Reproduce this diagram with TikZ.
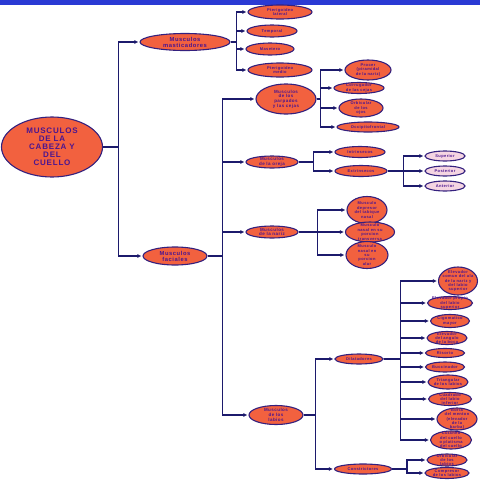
\documentclass[tikz,border=0pt]{standalone}
\usepackage{fontspec}
\setmainfont{Liberation Sans}[LetterSpace=10]
\usetikzlibrary{arrows.meta,shapes.geometric}
\definecolor{mfill}{HTML}{F2613F}
\definecolor{mline}{HTML}{34207E}
\definecolor{mtext}{HTML}{4A1590}
\definecolor{mwire}{HTML}{1C1A6C}
\definecolor{mpink}{HTML}{F5D5E2}
\definecolor{mbar}{HTML}{2A3AD4}

\begin{document}
\begin{tikzpicture}[x=1pt, y=-1pt,
        leaf/.style={ellipse, draw=mline, line width=1.1pt, fill=mfill, inner xsep=-3pt, inner ysep=-3pt,
                     align=center, text=mtext, font=\bfseries\fontsize{4}{4.4}\selectfont},
        rootbox/.style={leaf, font=\bfseries\fontsize{8}{8}\selectfont},
        midbox/.style={leaf, font=\bfseries\fontsize{5.8}{6}\selectfont},
        grpbox/.style={leaf, font=\bfseries\fontsize{4.5}{4.7}\selectfont},
        earleaf/.style={leaf, fill=mpink},
        arr/.style={-{Latex[length=4pt,width=4pt]}, line width=1.4pt, mwire, shorten >=1pt}]
        \useasboundingbox (0,0) rectangle (480,480);
        \fill[mbar] (0,0) rectangle (480,5);
        % raiz
        \node[rootbox, minimum width=101, minimum height=60] (root) at (52,147) {MUSCULOS\\DE LA\\CABEZA Y\\DEL\\CUELLO};
        \node[midbox, minimum width=90, minimum height=17] (mast) at (185,42) {Musculos\\masticadores};
        \node[midbox, minimum width=64, minimum height=18] (fac) at (175,256) {Musculos\\faciales};
        % masticadores
        \node[leaf, minimum width=64, minimum height=14] (ptl) at (280,12) {Pterigoideo\\lateral};
        \node[leaf, minimum width=50, minimum height=12] (tem) at (272,31) {Temporal};
        \node[leaf, minimum width=48, minimum height=12] (mas) at (270,49) {Masetero};
        \node[leaf, minimum width=64, minimum height=14] (ptm) at (280,70) {Pterigoideo\\medio};
        % faciales
        \node[grpbox, minimum width=60, minimum height=30] (parp) at (286,99) {Musculos\\de los\\parpados\\y las cejas};
        \node[grpbox, minimum width=52, minimum height=12] (oreja) at (272,162) {Musculos\\de la oreja};
        \node[grpbox, minimum width=52, minimum height=12] (nariz) at (272,232) {Musculos\\de la nariz};
        \node[grpbox, minimum width=54, minimum height=19] (labios) at (276,415) {Musculos\\de los\\labios};
        % parpados y cejas
        \node[leaf, minimum width=46, minimum height=20] (proc) at (368,70) {Procer\\(piramidal\\de la nariz)};
        \node[leaf, minimum width=50, minimum height=11] (corr) at (359,88) {Corrugador\\de las cejas};
        \node[leaf, minimum width=44, minimum height=18] (orbo) at (361,108) {Orbicular\\de los\\ojos};
        \node[leaf, minimum width=62, minimum height=10] (occ) at (368,127) {Occipitofrontal};
        % oreja
        \node[leaf, minimum width=50, minimum height=11] (intr) at (360,152) {Intrinsecos};
        \node[leaf, minimum width=52, minimum height=11] (extr) at (361,171) {Extrinsecos};
        \node[earleaf, minimum width=40, minimum height=10] (sup) at (445,156) {Superior};
        \node[earleaf, minimum width=40, minimum height=10] (post) at (445,171) {Posterior};
        \node[earleaf, minimum width=40, minimum height=10] (ant) at (445,186) {Anterior};
        % nariz
        \node[leaf, minimum width=40, minimum height=27] (dep) at (367,210) {Musculo\\depresor\\del tabique\\nasal};
        \node[leaf, minimum width=49, minimum height=20] (trans) at (370,232) {Musculo\\nasal en su\\porcion\\transversa};
        \node[leaf, minimum width=42, minimum height=27] (alar) at (367,255) {Musculo\\nasal en\\su\\porcion\\alar};
        % labios
        \node[leaf, minimum width=48, minimum height=10] (dil) at (359,359) {Dilatadores};
        \node[leaf, minimum width=57, minimum height=10] (cons) at (363,469) {Constrictores};
        \node[leaf, minimum width=39, minimum height=28] (d1) at (458,281) {Elevador\\comun del ala\\de la nariz y\\del labio\\superior};
        \node[leaf, minimum width=45, minimum height=13] (d2) at (450,303) {Elevador propio\\del labio\\superior};
        \node[leaf, minimum width=39, minimum height=13] (d3) at (450,321) {Cigomatico\\mayor};
        \node[leaf, minimum width=40, minimum height=13] (d4) at (447,338) {Elevador\\del angulo\\de la boca};
        \node[leaf, minimum width=39, minimum height=9] (d5) at (445,353) {Risorio};
        \node[leaf, minimum width=39, minimum height=10] (d6) at (445,367) {Buccinador};
        \node[leaf, minimum width=40, minimum height=14] (d7) at (448,382) {Triangular\\de los labios};
        \node[leaf, minimum width=43, minimum height=13] (d8) at (450,399) {Cuadrado\\del labio\\inferior};
        \node[leaf, minimum width=40, minimum height=22] (d9) at (457,419) {Borla\\del menton\\(elevador\\de la\\barba)};
        \node[leaf, minimum width=41, minimum height=18] (d10) at (451,440) {Cutaneo\\del cuello\\o platisma\\del cuello};
        \node[leaf, minimum width=40, minimum height=12] (c1) at (447,460) {Orbicular\\de los\\labios};
        \node[leaf, minimum width=44, minimum height=11] (c2) at (447,473) {Compresor\\de los labios};
        % conexiones
        \draw[arr] (root.east) -- ++(15.5,0) |- (mast.west);
        \draw[arr] (root.east) -- ++(15.5,0) |- (fac.west);
        \foreach \c in {ptl,tem,mas,ptm} \draw[arr] (mast.east) -- ++(6,0) |- (\c.west);
        \foreach \c in {parp,oreja,nariz,labios} \draw[arr] (fac.east) -- ++(15,0) |- (\c.west);
        \foreach \c in {proc,corr,orbo,occ} \draw[arr] (parp.east) -- ++(4,0) |- (\c.west);
        \foreach \c in {intr,extr} \draw[arr] (oreja.east) -- ++(15,0) |- (\c.west);
        \foreach \c in {sup,post,ant} \draw[arr] (extr.east) -- ++(16,0) |- (\c.west);
        \foreach \c in {dep,trans,alar} \draw[arr] (nariz.east) -- ++(19,0) |- (\c.west);
        \foreach \c in {dil,cons} \draw[arr] (labios.east) -- ++(12,0) |- (\c.west);
        \foreach \i in {1,...,10} \draw[arr] (dil.east) -- ++(17,0) |- (d\i.west);
        \foreach \c in {c1,c2} \draw[arr] (cons.east) -- ++(15,0) |- (\c.west);
\end{tikzpicture}
\end{document}
